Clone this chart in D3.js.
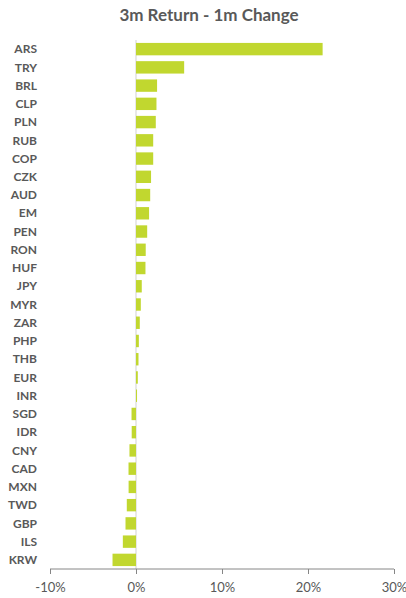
<!DOCTYPE html>
<html>
<head>
<meta charset="utf-8">
<script src="https://cdn.jsdelivr.net/npm/d3@7"></script>
<style>
  body { margin: 0; background: #fff; }
  svg { display: block; }
</style>
</head>
<body>
<svg id="chart" width="406" height="598"></svg>
<script>
var currencies = ["ARS","TRY","BRL","CLP","PLN","RUB","COP","CZK","AUD","EM","PEN","RON","HUF","JPY","MYR","ZAR","PHP","THB","EUR","INR","SGD","IDR","CNY","CAD","MXN","TWD","GBP","ILS","KRW"];
var change = [21.7, 5.6, 2.45, 2.38, 2.3, 2.0, 2.0, 1.75, 1.65, 1.52, 1.3, 1.13, 1.1, 0.67, 0.56, 0.44, 0.33, 0.29, 0.21, 0.12, -0.52, -0.5, -0.76, -0.87, -0.86, -1.07, -1.22, -1.53, -2.73];
var tickValues = [-10, 0, 10, 20, 30];

var svg = d3.select("#chart");

var x = d3.scaleLinear().domain([-10, 30]).range([50, 394]);
var y = d3.scaleBand().domain(currencies).range([40, 569]).paddingInner(0.32).paddingOuter(0.16);

svg.append("text")
    .attr("x", 209)
    .attr("y", 21)
    .attr("text-anchor", "middle")
    .style("font-family", "Lato, 'Open Sans', sans-serif")
    .style("font-weight", "bold")
    .style("font-size", "17px")
    .style("fill", "#595959")
    .text("3m Return - 1m Change");

// zero line
svg.append("line")
    .attr("x1", x(0)).attr("x2", x(0))
    .attr("y1", 40).attr("y2", 569)
    .attr("stroke", "#d9d9d9")
    .attr("stroke-width", 1.2);

svg.selectAll(".bar")
    .data(change)
    .enter().append("rect")
    .attr("class", "bar")
    .attr("x", function(d) { return Math.min(x(0), x(d)); })
    .attr("y", function(d, i) { return y(currencies[i]); })
    .attr("width", function(d) { return Math.abs(x(d) - x(0)); })
    .attr("height", y.bandwidth())
    .attr("fill", "#c1d72f");

svg.selectAll(".cat")
    .data(currencies)
    .enter().append("text")
    .attr("class", "cat")
    .attr("x", 37)
    .attr("y", function(d) { return y(d) + y.bandwidth() / 2; })
    .attr("dy", "0.35em")
    .attr("text-anchor", "end")
    .style("font-family", "Lato, 'Open Sans', sans-serif")
    .style("font-weight", "bold")
    .style("font-size", "12px")
    .style("fill", "#595959")
    .text(function(d) { return d; });

var xAxis = d3.axisBottom(x)
    .tickValues(tickValues)
    .tickSize(5)
    .tickPadding(9)
    .tickFormat(function(d) { return d + "%"; });

var ax = svg.append("g")
    .attr("transform", "translate(0,569)")
    .call(xAxis);
ax.select(".domain").attr("stroke", "#868686").attr("d", "M" + x(-10) + ",0H" + x(30));
ax.selectAll(".tick line").attr("stroke", "#868686");
ax.selectAll(".tick text")
    .style("font-family", "Lato, 'Open Sans', sans-serif")
    .style("font-size", "13px")
    .style("fill", "#595959");
</script>
</body>
</html>
